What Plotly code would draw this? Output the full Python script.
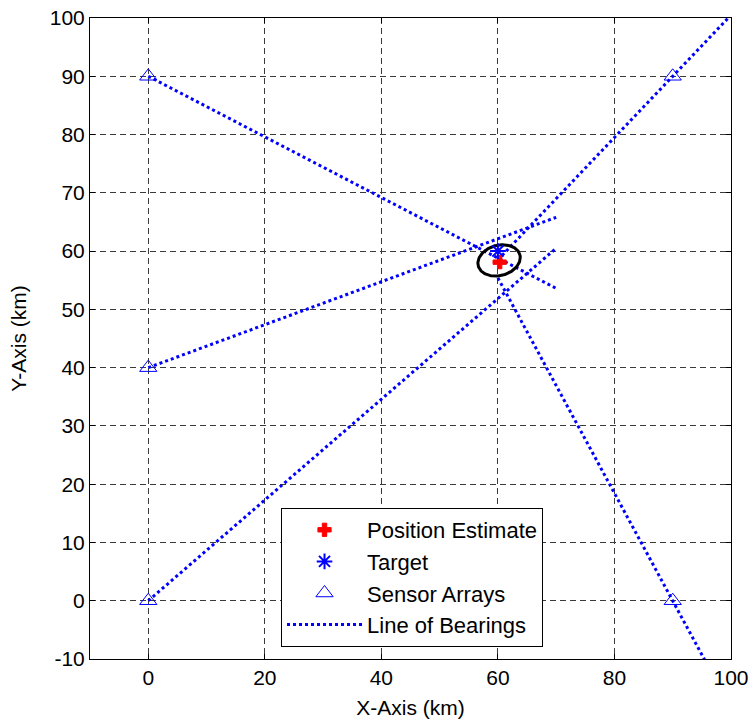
import numpy as np
import plotly.graph_objects as go

# ---- data ----
sensor_x = [0, 0, 0, 90, 90]
sensor_y = [0, 40, 90, 0, 90]

# line-of-bearing segments (start / end in km)
lob_x0 = [0, 0, 0, 60, 60]
lob_y0 = [0, 40, 90, 55.4, 58.5]
lob_x1 = [70, 70, 70, 100, 100]
lob_y1 = [60.5, 65.8, 53.6, -18.5, 100.5]

target_x = [60]
target_y = [60]

estimate_x = [60.3]
estimate_y = [58.1]

# error ellipse parameters (km, degrees)
ell_cx, ell_cy = 60.2, 58.4
ell_a, ell_b = 3.7, 2.6
ell_angle = 15

x_ticks = [0, 20, 40, 60, 80, 100]
y_ticks = [-10, 0, 10, 20, 30, 40, 50, 60, 70, 80, 90, 100]

FONT = "Liberation Sans, Arial, Helvetica, sans-serif"
BLUE = "rgb(0,0,255)"

lx, ly = [], []
for a, b, c, d in zip(lob_x0, lob_y0, lob_x1, lob_y1):
    lx += [a, c, None]
    ly += [b, d, None]

t = np.linspace(0, 2 * np.pi, 200)
th = np.deg2rad(ell_angle)
ex = ell_cx + ell_a * np.cos(t) * np.cos(th) - ell_b * np.sin(t) * np.sin(th)
ey = ell_cy + ell_a * np.cos(t) * np.sin(th) + ell_b * np.sin(t) * np.cos(th)

fig = go.Figure()
fig.add_trace(go.Scatter(
    x=lx, y=ly, mode="lines", name="Line of Bearings",
    line=dict(color=BLUE, width=3, dash="3px,3px"),
    legendrank=4, legendgroup="d"))
fig.add_trace(go.Scatter(
    x=sensor_x, y=sensor_y, mode="markers", name="Sensor Arrays",
    marker=dict(symbol="triangle-up-open", size=15, color=BLUE,
                line=dict(width=1, color=BLUE)),
    legendrank=3, legendgroup="c", cliponaxis=False))
fig.add_trace(go.Scatter(
    x=ex, y=ey, mode="lines", showlegend=False,
    line=dict(color="black", width=3), hoverinfo="skip"))
fig.add_trace(go.Scatter(
    x=estimate_x, y=estimate_y, mode="markers", name="Position Estimate",
    marker=dict(symbol="cross", size=11, color="red",
                line=dict(width=1, color="red")),
    legendrank=1, legendgroup="a"))
fig.add_trace(go.Scatter(
    x=target_x, y=target_y, mode="markers", name="Target",
    marker=dict(symbol="asterisk-open", size=13, color=BLUE,
                line=dict(width=2, color=BLUE)),
    legendrank=2, legendgroup="b"))

axis_common = dict(
    showline=True, linecolor="black", linewidth=1, mirror="ticks",
    ticks="inside", ticklen=5, tickcolor="black", tickwidth=1,
    showgrid=True, gridcolor="#3a3a3a", gridwidth=1, griddash="6px,4px",
    zeroline=False, tickfont=dict(family=FONT, size=21, color="black"),
)

fig.update_xaxes(
    range=[-10, 100], tickvals=x_ticks, ticktext=[str(v) for v in x_ticks],
    title=dict(text="X-Axis (km)", font=dict(family=FONT, size=21, color="black"),
               standoff=12),
    **axis_common)
fig.update_yaxes(
    range=[-10, 100], tickvals=y_ticks, ticktext=[str(v) for v in y_ticks],
    title=dict(text="Y-Axis (km)", font=dict(family=FONT, size=21, color="black"),
               standoff=17),
    **axis_common)

fig.update_layout(
    width=752, height=722,
    margin=dict(l=90, r=21, t=18, b=63, autoexpand=False),
    plot_bgcolor="white", paper_bgcolor="white",
    font=dict(family=FONT, size=21, color="black"),
    legend=dict(
        x=0.298, y=0.2356, xanchor="left", yanchor="top",
        bgcolor="white", bordercolor="black", borderwidth=1,
        font=dict(family=FONT, size=22, color="black"),
        itemwidth=75, tracegroupgap=0, traceorder="grouped",
    ),
    showlegend=True,
)

fig.write_html("out.html")
